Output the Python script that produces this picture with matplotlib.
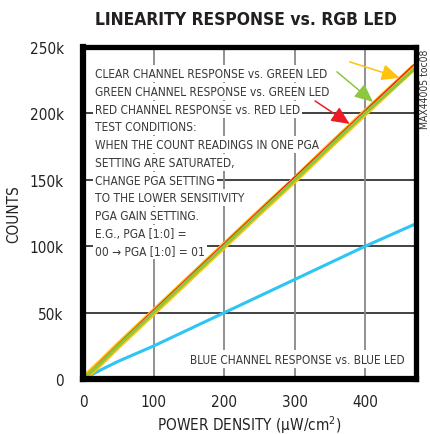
# Linearity response vs. RGB LED
import matplotlib.pyplot as plt

plt.rcParams['font.family'] = ['DejaVu Sans']
plt.rcParams['font.stretch'] = 'condensed'

# power density (uW/cm2) and counts for each channel
x_vals = [0, 25, 50, 100, 150, 200, 250, 300, 350, 400, 470]
clear_counts = [0, 12500, 25500, 50500, 75500, 100500, 125500, 150000, 175500, 200500, 235000]
green_counts = [0, 12300, 25300, 50300, 75300, 100200, 125200, 149800, 175200, 200200, 233500]
red_counts = [0, 13500, 26500, 52000, 77000, 102000, 127000, 152000, 177000, 202000, 237000]
x_blue = [0, 25, 50, 100, 150, 200, 250, 300, 350, 400, 470]
blue_counts = [0, 7000, 13500, 25000, 37500, 50000, 62500, 75000, 87500, 100000, 116500]

x_ticks = [0, 100, 200, 300, 400]
y_ticks = [0, 50000, 100000, 150000, 200000, 250000]
y_tick_labels = ['0', '50k', '100k', '150k', '200k', '250k']

note_lines = [
    'CLEAR CHANNEL RESPONSE vs. GREEN LED',
    'GREEN CHANNEL RESPONSE vs. GREEN LED',
    'RED CHANNEL RESPONSE vs. RED LED',
    'TEST CONDITIONS:',
    'WHEN THE COUNT READINGS IN ONE PGA',
    'SETTING ARE SATURATED,',
    'CHANGE PGA SETTING',
    'TO THE LOWER SENSITIVITY',
    'PGA GAIN SETTING.',
    'E.G., PGA [1:0] =',
    '00 \u2192 PGA [1:0] = 01',
]

yellow = '#FFC20E'
green = '#8DC63F'
red = '#ED1C24'
blue = '#2EC4F3'

fig = plt.figure(figsize=(4.31, 4.35), dpi=100)
ax = fig.add_axes([0.193, 0.126, 0.772, 0.764])

ax.set_xlim(0, 472)
ax.set_ylim(0, 250000)

# grid: dark horizontal, gray vertical
for yv in y_ticks[1:-1]:
    ax.axhline(yv, color='#333333', lw=1.3, zorder=1)
for xv in x_ticks[1:]:
    ax.axvline(xv, color='#888888', lw=1.3, zorder=1)

ax.plot(x_blue, blue_counts, color=blue, lw=2.2, zorder=3)
ax.plot(x_vals, clear_counts, color=yellow, lw=4.8, zorder=3, solid_capstyle='butt')
ax.plot(x_vals, red_counts, color=red, lw=1.0, zorder=4)
ax.plot(x_vals, green_counts, color=green, lw=2.2, zorder=5)

# labels with white boxes hiding the grid
for i, line in enumerate(note_lines):
    ax.text(0.036, 0.919 - i * 0.0533, line, transform=ax.transAxes,
            fontsize=8.6, color='#3a3a3a', va='center', ha='left', zorder=2,
            bbox=dict(facecolor='white', edgecolor='none', pad=1.5))

ax.text(0.967, 0.06, 'BLUE CHANNEL RESPONSE vs. BLUE LED', transform=ax.transAxes,
        fontsize=8.6, color='#3a3a3a', va='center', ha='right', zorder=2,
        bbox=dict(facecolor='white', edgecolor='none', pad=2))

# arrows pointing at the lines
arrows = [((378, 238700), (449, 226700), yellow),
          ((360, 231200), (411, 208600), green),
          ((329, 209300), (378, 192000), red)]
for tail, tip, col in arrows:
    ax.annotate('', xy=tip, xytext=tail, zorder=6,
                arrowprops=dict(arrowstyle='-|>,head_length=0.55,head_width=0.25',
                                color=col, lw=1.1,
                                mutation_scale=20, shrinkA=0, shrinkB=0))

ax.set_xticks(x_ticks)
ax.set_yticks(y_ticks)
ax.set_yticklabels(y_tick_labels)
ax.tick_params(axis='y', length=0, labelsize=11, colors='#222222', pad=14)
ax.tick_params(axis='x', length=0, labelsize=11, colors='#222222', pad=11)

for side in ['left', 'bottom']:
    ax.spines[side].set_linewidth(4.5)
for side in ['top', 'right']:
    ax.spines[side].set_linewidth(3.8)
for s in ax.spines.values():
    s.set_zorder(7)

ax.set_ylabel('COUNTS', fontsize=11, color='#222222', labelpad=6)
ax.set_xlabel('POWER DENSITY (\u00b5W/cm$^2$)', fontsize=11, color='#222222', labelpad=3)

fig.text(0.57, 0.953, 'LINEARITY RESPONSE vs. RGB LED', fontsize=12.5, fontweight='bold',
         ha='center', va='center', color='#231f20')
fig.text(0.985, 0.885, 'MAX44005 toc08', rotation=90, fontsize=7.5, color='#333333',
         ha='center', va='top')

fig.savefig('out.png', dpi=100)
